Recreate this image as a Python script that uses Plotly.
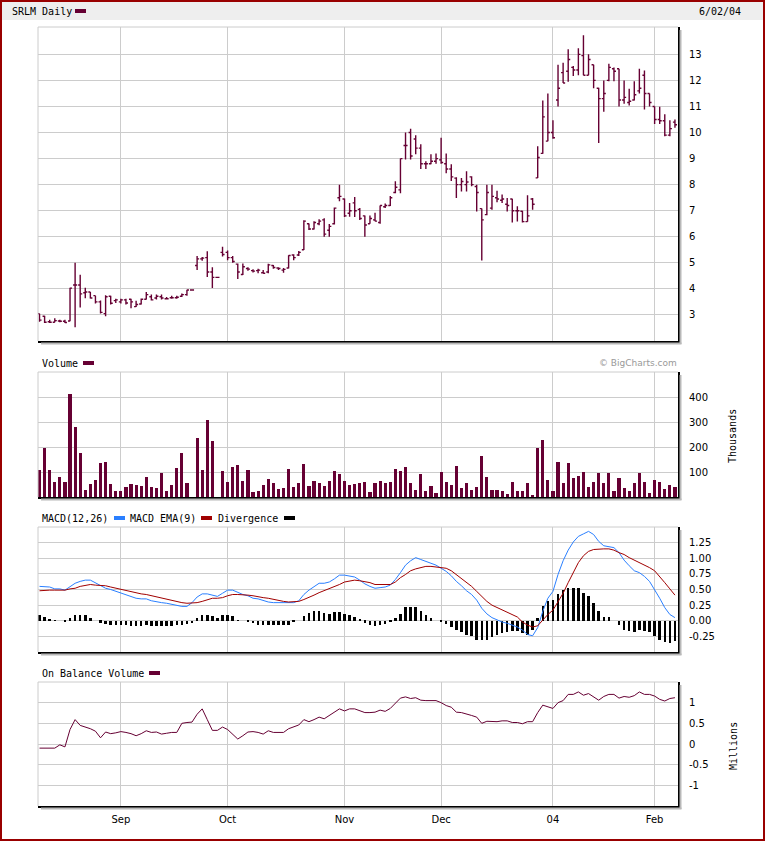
import plotly.graph_objects as go

# SRLM daily, 8 Aug 2003 .. 6 Feb 2004, one entry per trading day
month_ticks = [16, 37, 60, 79, 101, 121]
month_labels = ["Sep", "Oct", "Nov", "Dec", "04", "Feb"]

price_open = [3.05, 2.95, 2.74, 2.72, 2.77, 2.76, 2.77, 4.15, 4.15, 3.85,
              3.88, 3.74, 3.50, 3.05, 3.72, 3.55, 3.50, 3.58, 3.60, 3.32,
              3.42, 3.60, 3.70, 3.65, 3.70, 3.62, 3.66, 3.66, 3.72, 3.78,
              3.96, 4.90, 5.15, 5.20, 4.65, 4.44, 5.40, 5.40, 5.20, 4.95,
              4.55, 4.78, 4.70, 4.70, 4.62, 4.65, 4.90, 4.80, 4.72, 4.80,
              5.30, 5.30, 5.50, 6.50, 6.30, 6.50, 6.65, 6.25, 6.50, 7.50,
              7.45, 6.90, 7.30, 7.05, 6.80, 6.50, 6.65, 6.55, 7.15, 7.20,
              7.70, 7.80, 9.50, 10.00, 9.75, 9.40, 8.80, 8.80, 8.90, 8.95,
              8.80, 8.60, 8.25, 8.00, 8.00, 8.30, 7.93, 7.08, 6.85, 7.10,
              7.50, 7.40, 7.25, 7.45, 7.00, 6.98, 6.58, 7.45, 8.26, 9.20,
              9.67, 10.00, 11.25, 12.30, 12.35, 12.50, 12.40, 12.95, 12.20, 12.60,
              11.70, 11.30, 12.00, 12.45, 12.45, 11.25, 11.15, 11.25, 11.60, 12.20,
              11.50, 11.00, 10.50, 10.45, 9.90, 10.40]
price_high = [3.05, 2.97, 2.82, 2.87, 2.82, 2.82, 4.04, 5.00, 4.54, 4.04,
              3.88, 3.74, 3.55, 3.76, 3.74, 3.62, 3.62, 3.62, 3.62, 3.54,
              3.63, 3.88, 3.78, 3.78, 3.78, 3.69, 3.74, 3.74, 3.82, 3.97,
              3.96, 5.26, 5.22, 5.44, 4.83, 4.44, 5.62, 5.47, 5.26, 4.97,
              4.97, 4.83, 4.75, 4.77, 4.72, 4.96, 4.92, 4.83, 4.80, 5.29,
              5.33, 5.45, 6.63, 6.51, 6.60, 6.67, 6.71, 6.49, 7.12, 8.00,
              7.47, 7.30, 7.53, 7.10, 6.82, 6.82, 6.92, 7.20, 7.28, 7.56,
              8.13, 9.00, 10.00, 10.15, 9.90, 9.55, 8.90, 9.17, 9.20, 9.80,
              9.20, 8.78, 8.28, 8.26, 8.51, 8.32, 8.00, 7.08, 8.00, 8.00,
              7.77, 7.62, 7.49, 7.46, 7.17, 7.00, 7.59, 7.49, 9.47, 11.23,
              11.50, 10.47, 12.60, 12.68, 13.20, 12.55, 13.23, 13.73, 13.00, 12.60,
              11.72, 12.00, 12.64, 12.50, 12.45, 12.00, 11.68, 11.97, 12.45, 12.38,
              11.50, 11.00, 10.99, 10.70, 10.47, 10.50]
price_low = [2.74, 2.69, 2.69, 2.72, 2.72, 2.69, 2.76, 2.53, 3.29, 3.64,
             3.63, 3.44, 3.06, 2.95, 3.40, 3.46, 3.44, 3.40, 3.26, 3.30,
             3.40, 3.59, 3.55, 3.59, 3.59, 3.59, 3.62, 3.62, 3.69, 3.74,
             3.96, 4.72, 5.08, 4.46, 4.03, 4.44, 5.24, 5.10, 5.00, 4.38,
             4.53, 4.70, 4.63, 4.60, 4.59, 4.60, 4.77, 4.72, 4.62, 4.78,
             5.10, 5.26, 5.49, 6.26, 6.28, 6.44, 6.00, 6.00, 6.47, 7.36,
             6.76, 6.77, 6.76, 6.64, 6.00, 6.50, 6.60, 6.50, 7.10, 7.18,
             7.67, 7.67, 8.97, 8.97, 9.17, 8.60, 8.60, 8.78, 8.80, 8.80,
             8.44, 8.14, 7.49, 7.74, 7.74, 7.94, 6.97, 5.09, 6.83, 7.04,
             7.32, 7.30, 6.97, 6.55, 6.59, 6.55, 6.58, 7.04, 8.26, 9.19,
             9.67, 9.76, 11.00, 11.90, 11.95, 12.17, 12.20, 12.20, 12.20, 11.70,
             9.60, 10.80, 11.97, 11.97, 11.00, 11.10, 11.04, 11.23, 11.50, 10.88,
             11.00, 10.33, 10.33, 9.86, 9.86, 10.18]
price_close = [2.80, 2.72, 2.72, 2.78, 2.76, 2.71, 4.03, 4.15, 3.81, 3.88,
               3.65, 3.50, 3.10, 3.70, 3.45, 3.58, 3.58, 3.46, 3.50, 3.40,
               3.60, 3.78, 3.58, 3.72, 3.65, 3.62, 3.66, 3.68, 3.78, 3.96,
               3.96, 5.15, 5.18, 4.65, 4.44, 4.44, 5.32, 5.20, 5.05, 4.65,
               4.85, 4.76, 4.68, 4.72, 4.60, 4.92, 4.82, 4.78, 4.75, 5.28,
               5.20, 5.40, 6.60, 6.30, 6.55, 6.60, 6.10, 6.40, 7.10, 7.55,
               6.80, 7.00, 7.00, 6.70, 6.45, 6.70, 6.60, 7.20, 7.20, 7.50,
               7.90, 9.00, 9.50, 9.10, 9.40, 8.80, 8.80, 8.90, 9.00, 8.85,
               8.60, 8.30, 8.00, 8.12, 8.10, 8.00, 7.70, 6.65, 7.70, 7.55,
               7.45, 7.45, 7.20, 7.00, 7.00, 6.58, 6.80, 7.25, 9.04, 10.60,
               10.00, 9.80, 11.70, 11.90, 12.80, 12.40, 13.00, 12.20, 12.80, 12.00,
               11.30, 11.50, 12.50, 12.35, 11.25, 11.35, 11.20, 11.45, 11.70, 11.50,
               11.15, 10.50, 10.45, 9.90, 10.15, 10.30]

# volume, thousands of shares
volume_k = [107, 196, 107, 62, 82, 62, 411, 281, 176, 30,
            54, 70, 135, 139, 54, 26, 26, 42, 54, 50,
            46, 82, 42, 38, 95, 26, 50, 115, 176, 58,
            0, 236, 107, 309, 224, 0, 103, 62, 119, 127,
            66, 107, 22, 26, 50, 74, 58, 34, 38, 111,
            42, 58, 131, 46, 66, 58, 46, 66, 103, 91,
            66, 50, 54, 58, 62, 22, 58, 66, 58, 62,
            111, 103, 119, 58, 30, 91, 26, 46, 18, 99,
            62, 50, 123, 38, 58, 30, 42, 164, 82, 30,
            30, 26, 14, 62, 26, 26, 58, 10, 196, 228,
            70, 26, 139, 58, 135, 78, 86, 99, 42, 62,
            95, 58, 95, 26, 78, 38, 26, 58, 95, 62,
            18, 70, 62, 34, 50, 42]

macd = [0.55, 0.54, 0.54, 0.51, 0.51, 0.49, 0.55, 0.60, 0.63, 0.65,
        0.65, 0.61, 0.56, 0.52, 0.50, 0.47, 0.45, 0.42, 0.38, 0.36,
        0.35, 0.35, 0.32, 0.30, 0.29, 0.28, 0.26, 0.24, 0.23, 0.23,
        0.29, 0.38, 0.43, 0.43, 0.41, 0.39, 0.44, 0.49, 0.49, 0.45,
        0.42, 0.40, 0.36, 0.35, 0.32, 0.30, 0.29, 0.29, 0.28, 0.28,
        0.29, 0.32, 0.42, 0.49, 0.55, 0.60, 0.60, 0.62, 0.67, 0.73,
        0.73, 0.72, 0.70, 0.65, 0.59, 0.55, 0.52, 0.53, 0.54, 0.57,
        0.66, 0.77, 0.89, 0.96, 1.01, 0.98, 0.95, 0.92, 0.89, 0.84,
        0.79, 0.72, 0.63, 0.56, 0.48, 0.42, 0.33, 0.20, 0.11, 0.05,
        0.01, -0.02, -0.04, -0.07, -0.10, -0.15, -0.22, -0.24, -0.11, 0.15,
        0.36, 0.47, 0.74, 0.96, 1.13, 1.26, 1.35, 1.39, 1.43, 1.38,
        1.27, 1.20, 1.19, 1.17, 1.09, 0.97, 0.88, 0.80, 0.77, 0.71,
        0.63, 0.50, 0.36, 0.21, 0.10, 0.05]
macd_ema = [0.48, 0.49, 0.49, 0.49, 0.49, 0.49, 0.51, 0.52, 0.55, 0.57,
            0.58, 0.57, 0.57, 0.56, 0.54, 0.52, 0.51, 0.49, 0.47, 0.45,
            0.43, 0.42, 0.40, 0.38, 0.36, 0.35, 0.33, 0.31, 0.29, 0.28,
            0.28, 0.29, 0.31, 0.34, 0.36, 0.36, 0.37, 0.40, 0.42, 0.42,
            0.42, 0.41, 0.40, 0.38, 0.37, 0.36, 0.34, 0.32, 0.31, 0.30,
            0.30, 0.31, 0.34, 0.37, 0.41, 0.45, 0.48, 0.51, 0.54, 0.58,
            0.62, 0.64, 0.65, 0.64, 0.63, 0.61, 0.58, 0.58, 0.57, 0.58,
            0.62, 0.69, 0.74, 0.80, 0.83, 0.85, 0.87, 0.87, 0.86, 0.86,
            0.84, 0.80, 0.74, 0.68, 0.62, 0.55, 0.47, 0.39, 0.31, 0.25,
            0.21, 0.18, 0.14, 0.10, 0.06, -0.02, -0.07, -0.10, -0.08, 0.01,
            0.10, 0.17, 0.31, 0.44, 0.61, 0.78, 0.93, 1.04, 1.11, 1.14,
            1.15, 1.15, 1.15, 1.13, 1.09, 1.06, 1.01, 0.97, 0.94, 0.89,
            0.85, 0.80, 0.71, 0.61, 0.51, 0.41]
divergence = [0.09, 0.06, 0.03, 0.01, 0.00, -0.02, 0.05, 0.10, 0.10, 0.09,
              0.05, 0.00, -0.03, -0.05, -0.06, -0.07, -0.07, -0.07, -0.08, -0.08,
              -0.08, -0.07, -0.08, -0.08, -0.08, -0.08, -0.08, -0.07, -0.06, -0.05,
              -0.04, 0.05, 0.10, 0.10, 0.08, 0.04, 0.09, 0.09, 0.08, 0.01,
              0.00, -0.02, -0.04, -0.06, -0.07, -0.07, -0.06, -0.07, -0.06, -0.06,
              -0.02, 0.00, 0.08, 0.12, 0.15, 0.15, 0.12, 0.11, 0.14, 0.14,
              0.11, 0.10, 0.06, 0.02, -0.03, -0.07, -0.09, -0.07, -0.05, -0.02,
              0.04, 0.11, 0.22, 0.22, 0.22, 0.15, 0.10, 0.05, 0.00, -0.02,
              -0.05, -0.10, -0.15, -0.18, -0.22, -0.25, -0.30, -0.31, -0.30, -0.26,
              -0.22, -0.20, -0.18, -0.17, -0.17, -0.20, -0.23, -0.14, 0.05, 0.24,
              0.31, 0.34, 0.43, 0.50, 0.52, 0.52, 0.52, 0.44, 0.40, 0.28,
              0.16, 0.06, 0.06, 0.00, -0.07, -0.14, -0.17, -0.18, -0.15, -0.17,
              -0.18, -0.25, -0.30, -0.34, -0.36, -0.32]

# on balance volume, millions
obv_m = [-0.10, -0.10, -0.10, -0.10, -0.02, -0.07, 0.35, 0.59, 0.45, 0.41,
         0.37, 0.31, 0.15, 0.29, 0.25, 0.27, 0.30, 0.28, 0.25, 0.20,
         0.25, 0.32, 0.28, 0.29, 0.24, 0.26, 0.28, 0.28, 0.50, 0.52,
         0.53, 0.72, 0.85, 0.59, 0.33, 0.33, 0.41, 0.35, 0.24, 0.12,
         0.20, 0.29, 0.30, 0.28, 0.24, 0.32, 0.28, 0.28, 0.28, 0.37,
         0.41, 0.46, 0.59, 0.54, 0.59, 0.65, 0.61, 0.69, 0.77, 0.85,
         0.80, 0.85, 0.85, 0.81, 0.76, 0.76, 0.77, 0.82, 0.79, 0.86,
         0.98, 1.11, 1.14, 1.10, 1.12, 1.06, 1.05, 1.05, 1.05, 1.00,
         0.93, 0.89, 0.77, 0.76, 0.73, 0.69, 0.65, 0.50, 0.55, 0.54,
         0.54, 0.56, 0.56, 0.52, 0.52, 0.49, 0.54, 0.54, 0.76, 0.94,
         0.90, 0.86, 1.00, 1.05, 1.20, 1.20, 1.26, 1.18, 1.22, 1.15,
         1.06, 1.15, 1.20, 1.20, 1.11, 1.15, 1.13, 1.17, 1.26, 1.20,
         1.20, 1.16, 1.08, 1.04, 1.10, 1.12]

day = list(range(len(price_close)))

W, H = 766, 842
MAROON = "#660033"
GRID = "#cccccc"
MONO = "DejaVu Sans Mono"


def px(x):
    return x / W


def py(y):
    return 1 - y / H


# panel boxes in pixels: left, top, right, bottom
LEFT, RIGHT = 38, 678
panels = [(27, 341), (372, 497), (527, 652), (682, 806)]

fig = go.Figure()

fig.add_trace(go.Ohlc(
    x=day, open=price_open, high=price_high, low=price_low, close=price_close,
    increasing_line_color=MAROON, decreasing_line_color=MAROON,
    line_width=1.4, tickwidth=0.4,
    xaxis="x", yaxis="y", hoverinfo="skip",
))

fig.add_trace(go.Bar(
    x=day, y=volume_k, marker_color=MAROON, marker_line_width=0, width=0.62,
    xaxis="x2", yaxis="y2", hoverinfo="skip",
))

fig.add_trace(go.Bar(
    x=day, y=divergence, marker_color="black", marker_line_width=0, width=0.5,
    xaxis="x3", yaxis="y3", hoverinfo="skip",
))
fig.add_trace(go.Scatter(
    x=day, y=macd, mode="lines", line=dict(color="#2a7fff", width=1),
    xaxis="x3", yaxis="y3", hoverinfo="skip",
))
fig.add_trace(go.Scatter(
    x=day, y=macd_ema, mode="lines", line=dict(color="#a00000", width=1),
    xaxis="x3", yaxis="y3", hoverinfo="skip",
))

fig.add_trace(go.Scatter(
    x=day, y=obv_m, mode="lines", line=dict(color=MAROON, width=1),
    xaxis="x4", yaxis="y4", hoverinfo="skip",
))

tick_font = dict(family="DejaVu Sans", size=10, color="black")
xrange = [-0.3, 125.6]
y_setup = [
    dict(range=[2, 14.05], tickvals=list(range(3, 14))),
    dict(range=[0, 500], tickvals=[100, 200, 300, 400]),
    dict(range=[-0.5, 1.5], tickvals=[-0.25, 0, 0.25, 0.5, 0.75, 1.0, 1.25],
         ticktext=["-0.25", "0.00", "0.25", "0.50", "0.75", "1.00", "1.25"]),
    dict(range=[-1.5, 1.5], tickvals=[-1, -0.5, 0, 0.5, 1],
         ticktext=["-1", "-0.5", "0", "0.5", "1"]),
]

layout = dict(
    width=W, height=H,
    margin=dict(l=0, r=0, t=0, b=0),
    paper_bgcolor="white", plot_bgcolor="white",
    showlegend=False, bargap=0,
)

for k, (top, bottom) in enumerate(panels):
    sfx = "" if k == 0 else str(k + 1)
    layout["xaxis" + sfx] = dict(
        domain=[px(LEFT), px(RIGHT)], range=xrange,
        anchor="y" + sfx,
        tickvals=month_ticks, ticktext=month_labels,
        showticklabels=(k == 3), tickfont=tick_font,
        ticks="outside", ticklen=3, tickcolor="rgba(0,0,0,0)",
        showgrid=True, gridcolor=GRID, gridwidth=1,
        showline=True, linecolor="black", linewidth=2,
        zeroline=False, fixedrange=True,
        rangeslider=dict(visible=False),
    )
    ya = dict(
        domain=[py(bottom), py(top)], anchor="x" + sfx, side="right",
        tickfont=tick_font,
        ticks="outside", ticklen=7, tickcolor="rgba(0,0,0,0)",
        showgrid=True, gridcolor=GRID, gridwidth=1,
        showline=True, linecolor="black", linewidth=2,
        zeroline=False, fixedrange=True,
    )
    ya.update(y_setup[k])
    layout["yaxis" + sfx] = ya

fig.update_layout(**layout)

shapes = []
# outer frame and header strip
shapes.append(dict(type="rect", xref="paper", yref="paper",
                   x0=px(2), x1=px(763), y0=py(2), y1=py(20),
                   fillcolor="#eeeeee", line_width=0, layer="below"))
shapes.append(dict(type="rect", xref="paper", yref="paper",
                   x0=px(1), x1=px(764), y0=py(1), y1=py(840),
                   line=dict(color="#990000", width=2)))
for top, bottom in panels:
    # light top/left border, dark shadow on right/bottom
    shapes.append(dict(type="line", xref="paper", yref="paper",
                       x0=px(LEFT), x1=px(RIGHT), y0=py(top), y1=py(top),
                       line=dict(color=GRID, width=1)))
    shapes.append(dict(type="line", xref="paper", yref="paper",
                       x0=px(LEFT), x1=px(LEFT), y0=py(top), y1=py(bottom),
                       line=dict(color=GRID, width=1)))
    shapes.append(dict(type="line", xref="paper", yref="paper",
                       x0=px(RIGHT + 2.5), x1=px(RIGHT + 2.5),
                       y0=py(top + 3), y1=py(bottom + 3),
                       line=dict(color="#b8b8b8", width=2)))
    shapes.append(dict(type="line", xref="paper", yref="paper",
                       x0=px(LEFT + 3), x1=px(RIGHT + 3.5),
                       y0=py(bottom + 2.5), y1=py(bottom + 2.5),
                       line=dict(color="#b8b8b8", width=2)))


def swatch(x0, y, color):
    return dict(type="rect", xref="paper", yref="paper",
                x0=px(x0), x1=px(x0 + 11), y0=py(y - 2), y1=py(y + 2),
                fillcolor=color, line_width=0)


shapes += [
    swatch(75, 11, MAROON),
    swatch(83, 363, MAROON),
    swatch(114, 518, "#2a7fff"),
    swatch(201, 518, "#a00000"),
    swatch(284, 518, "black"),
    swatch(149, 673, MAROON),
]
fig.update_layout(shapes=shapes)


def label(text, x, y, anchor="left", size=10, color="black", family=MONO, angle=0):
    return dict(text=text, xref="paper", yref="paper", x=px(x), y=py(y),
                xanchor=anchor, yanchor="middle", showarrow=False,
                textangle=angle, font=dict(family=family, size=size, color=color))


fig.update_layout(annotations=[
    label("SRLM Daily", 10, 11),
    label("6/02/04", 743, 11, anchor="right"),
    label("Volume", 40, 363),
    label("© BigCharts.com", 679, 363, anchor="right", size=9, color="#999999",
          family="DejaVu Sans"),
    label("MACD(12,26)", 40, 518),
    label("MACD EMA(9)", 128, 518),
    label("Divergence", 216, 518),
    label("On Balance Volume", 40, 673),
    label("Thousands", 733, 436, anchor="center", angle=-90),
    label("Millions", 733, 746, anchor="center", angle=-90),
])

# the page body has a default 8px margin; drop it so the figure sits at 0,0
fig.write_html("out.html", config={"displayModeBar": False},
               post_script="document.body.style.margin='0';")
